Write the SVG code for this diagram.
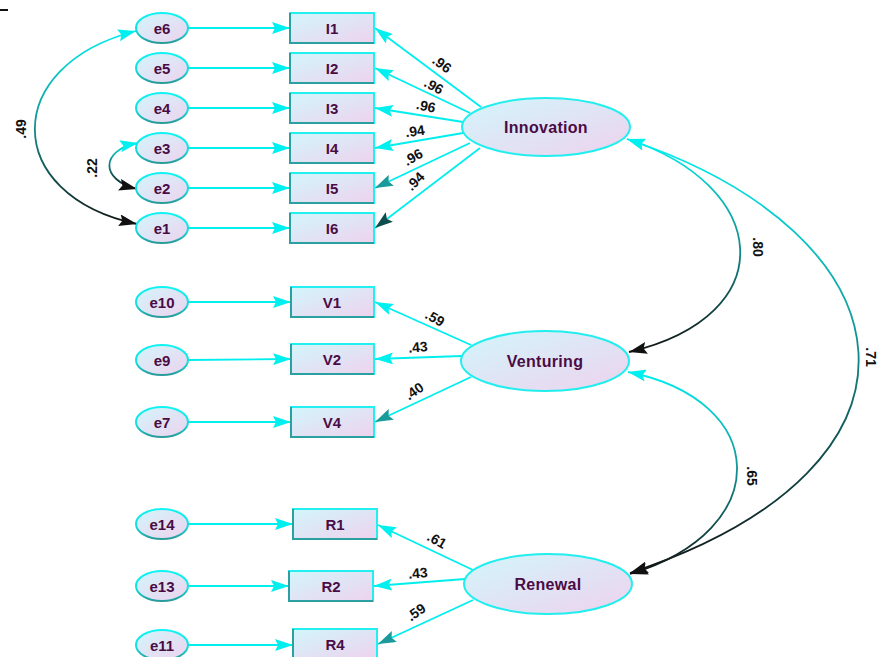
<svg xmlns="http://www.w3.org/2000/svg" width="880" height="657" viewBox="0 0 880 657">
<style>
.box{fill:url(#nf);stroke:#22f0f0;stroke-width:2}
.shade{fill:none;stroke:#2aa0a0;stroke-width:2}
.err{fill:url(#nf);stroke:url(#es);stroke-width:2}
.lat{fill:url(#nf);stroke:#22eeee;stroke-width:2}
.lbl{font-family:"Liberation Sans",Arial,sans-serif;font-weight:bold;fill:#4b0b45;text-anchor:middle;dominant-baseline:central}
.ltxt{font-size:16px;letter-spacing:0.3px}
.etxt{font-size:15px}
.btxt{font-size:15px}
.num{font-family:"Liberation Sans",Arial,sans-serif;font-weight:bold;font-size:14px;fill:#111;text-anchor:middle;dominant-baseline:central}
.c{fill:none;stroke:#00eeee;stroke-width:1.8}
.cov{fill:none;stroke-width:1.8}
</style>
<defs>
<linearGradient id="nf" x1="0" y1="0" x2="1" y2="1">
<stop offset="0" stop-color="#d2f6fc"/>
<stop offset="1" stop-color="#eed2ee"/>
</linearGradient>
<linearGradient id="es" x1="0" y1="0" x2="0" y2="1">
<stop offset="0" stop-color="#10f4f4"/>
<stop offset="0.55" stop-color="#10e0e0"/>
<stop offset="1" stop-color="#2a9a9a"/>
</linearGradient>
<linearGradient id="g49" gradientUnits="userSpaceOnUse" x1="0" y1="28" x2="0" y2="228">
<stop offset="0" stop-color="#00f0f0"/>
<stop offset="0.45" stop-color="#139898"/>
<stop offset="1" stop-color="#111"/>
</linearGradient>
<linearGradient id="g22" gradientUnits="userSpaceOnUse" x1="0" y1="142" x2="0" y2="192">
<stop offset="0" stop-color="#00f0f0"/>
<stop offset="0.4" stop-color="#168888"/>
<stop offset="1" stop-color="#111"/>
</linearGradient>
<linearGradient id="g80" gradientUnits="userSpaceOnUse" x1="0" y1="138" x2="0" y2="352">
<stop offset="0" stop-color="#00f0f0"/>
<stop offset="0.45" stop-color="#139a9a"/>
<stop offset="1" stop-color="#111"/>
</linearGradient>
<linearGradient id="g71" gradientUnits="userSpaceOnUse" x1="0" y1="138" x2="0" y2="573">
<stop offset="0" stop-color="#00f0f0"/>
<stop offset="0.4" stop-color="#13a0a0"/>
<stop offset="0.65" stop-color="#126060"/>
<stop offset="1" stop-color="#111"/>
</linearGradient>
<linearGradient id="g65" gradientUnits="userSpaceOnUse" x1="0" y1="372" x2="0" y2="574">
<stop offset="0" stop-color="#00f0f0"/>
<stop offset="0.45" stop-color="#139a9a"/>
<stop offset="1" stop-color="#111"/>
</linearGradient>
<linearGradient id="gI1" gradientUnits="userSpaceOnUse" x1="480" y1="107" x2="375" y2="28">
<stop offset="0" stop-color="#1a9a9a"/>
<stop offset="0.5" stop-color="#00e8e8"/>
<stop offset="1" stop-color="#00f0f0"/>
</linearGradient>
<linearGradient id="gI5" gradientUnits="userSpaceOnUse" x1="470" y1="143" x2="375" y2="188">
<stop offset="0" stop-color="#00f0f0"/>
<stop offset="0.6" stop-color="#00e0e0"/>
<stop offset="1" stop-color="#1a9a9a"/>
</linearGradient>
<linearGradient id="gI6" gradientUnits="userSpaceOnUse" x1="480" y1="148" x2="375" y2="228">
<stop offset="0" stop-color="#00f0f0"/>
<stop offset="0.5" stop-color="#12b0b0"/>
<stop offset="1" stop-color="#0d4d4d"/>
</linearGradient>
<linearGradient id="gV4" gradientUnits="userSpaceOnUse" x1="470" y1="377" x2="377" y2="422">
<stop offset="0" stop-color="#00f0f0"/>
<stop offset="0.7" stop-color="#00e0e0"/>
<stop offset="1" stop-color="#1a9a9a"/>
</linearGradient>
<linearGradient id="gR4" gradientUnits="userSpaceOnUse" x1="472" y1="600" x2="378" y2="644">
<stop offset="0" stop-color="#00f0f0"/>
<stop offset="0.7" stop-color="#00e0e0"/>
<stop offset="1" stop-color="#1a9a9a"/>
</linearGradient>
<marker id="ac" viewBox="0 0 18 12" refX="18" refY="6" markerWidth="18" markerHeight="12" markerUnits="userSpaceOnUse" orient="auto-start-reverse"><path d="M0,0 L18,6 L0,12 L3,6 z" fill="#00f0f0"/></marker>
<marker id="at" viewBox="0 0 18 12" refX="18" refY="6" markerWidth="18" markerHeight="12" markerUnits="userSpaceOnUse" orient="auto-start-reverse"><path d="M0,0 L18,6 L0,12 L3,6 z" fill="#1a9a9a"/></marker>
<marker id="ad" viewBox="0 0 18 12" refX="18" refY="6" markerWidth="18" markerHeight="12" markerUnits="userSpaceOnUse" orient="auto-start-reverse"><path d="M0,0 L18,6 L0,12 L3,6 z" fill="#0d4d4d"/></marker>
<marker id="ak" viewBox="0 0 18 12" refX="18" refY="6" markerWidth="18" markerHeight="12" markerUnits="userSpaceOnUse" orient="auto-start-reverse"><path d="M0,0 L18,6 L0,12 L3,6 z" fill="#111"/></marker>
</defs>
<rect width="880" height="657" fill="#fff"/>
<line x1="0" y1="10" x2="8" y2="10" stroke="#111" stroke-width="2"/>

<g id="connectors">
<line class="c" x1="188" y1="28" x2="290" y2="28" marker-end="url(#ac)"/>
<line class="c" x1="188" y1="68" x2="290" y2="68" marker-end="url(#ac)"/>
<line class="c" x1="188" y1="108" x2="290" y2="108" marker-end="url(#ac)"/>
<line class="c" x1="188" y1="148" x2="290" y2="148" marker-end="url(#ac)"/>
<line class="c" x1="188" y1="188" x2="290" y2="188" marker-end="url(#ac)"/>
<line class="c" x1="188" y1="228" x2="290" y2="228" marker-end="url(#ac)"/>
<line class="c" x1="188" y1="302" x2="291" y2="302" marker-end="url(#ac)"/>
<line class="c" x1="188" y1="360" x2="291" y2="359" marker-end="url(#ac)"/>
<line class="c" x1="188" y1="422" x2="291" y2="422" marker-end="url(#ac)"/>
<line class="c" x1="188" y1="524" x2="293" y2="524" marker-end="url(#ac)"/>
<line class="c" x1="188" y1="586" x2="289" y2="586" marker-end="url(#ac)"/>
<line class="c" x1="188" y1="645" x2="293" y2="645" marker-end="url(#ac)"/>
<line class="c" x1="481" y1="107" x2="375" y2="28" stroke="url(#gI1)" marker-end="url(#ac)"/>
<line class="c" x1="470" y1="113" x2="375" y2="68" marker-end="url(#ac)"/>
<line class="c" x1="463" y1="122" x2="375" y2="108" marker-end="url(#ac)"/>
<line class="c" x1="463" y1="133" x2="375" y2="148" marker-end="url(#ac)"/>
<line class="c" x1="470" y1="143" x2="375" y2="188" stroke="url(#gI5)" marker-end="url(#at)"/>
<line class="c" x1="480" y1="148" x2="375" y2="228" stroke="url(#gI6)" marker-end="url(#ad)"/>
<line class="c" x1="471" y1="345" x2="375" y2="302" marker-end="url(#ac)"/>
<line class="c" x1="462" y1="356" x2="375" y2="359" marker-end="url(#ac)"/>
<line class="c" x1="471" y1="377" x2="375" y2="422" stroke="url(#gV4)" marker-end="url(#at)"/>
<line class="c" x1="473" y1="570" x2="378" y2="525" marker-end="url(#ac)"/>
<line class="c" x1="465" y1="579" x2="374" y2="586" marker-end="url(#ac)"/>
<line class="c" x1="473" y1="600" x2="378" y2="644" stroke="url(#gR4)" marker-end="url(#at)"/>
<path class="cov" d="M136,31 C1,65 1,195 137,224" stroke="url(#g49)" marker-start="url(#ac)" marker-end="url(#ak)"/>
<path class="cov" d="M138,143 C100,150 100,180 137,189" stroke="url(#g22)" marker-start="url(#ac)" marker-end="url(#ak)"/>
<path class="cov" d="M627,139 C770,185 785,315 629,352" stroke="url(#g80)" marker-start="url(#ac)" marker-end="url(#ak)"/>
<path class="cov" d="M627,139 C915,235 955,465 630,573" stroke="url(#g71)" marker-start="url(#ac)" marker-end="url(#ak)"/>
<path class="cov" d="M628,372 C770,400 776,530 630,574" stroke="url(#g65)" marker-start="url(#ac)" marker-end="url(#ak)"/>
<text class="num" transform="translate(442,64) rotate(36)">.96</text>
<text class="num" transform="translate(434,86) rotate(28)">.96</text>
<text class="num" transform="translate(426,106) rotate(12)">.96</text>
<text class="num" transform="translate(415,131) rotate(-8)">.94</text>
<text class="num" transform="translate(413,157) rotate(-30)">.96</text>
<text class="num" transform="translate(415,181) rotate(-45)">.94</text>
<text class="num" transform="translate(435,318) rotate(30)">.59</text>
<text class="num" transform="translate(418,347) rotate(-5)">.43</text>
<text class="num" transform="translate(414,391) rotate(-35)">.40</text>
<text class="num" transform="translate(437,540) rotate(30)">.61</text>
<text class="num" transform="translate(418,573) rotate(-5)">.43</text>
<text class="num" transform="translate(416,612) rotate(-35)">.59</text>
<text class="num" transform="translate(21,129) rotate(-90)">.49</text>
<text class="num" transform="translate(92,168) rotate(-90)">.22</text>
<text class="num" transform="translate(758,247) rotate(90)">.80</text>
<text class="num" transform="translate(871,357) rotate(90)">.71</text>
<text class="num" transform="translate(752,476) rotate(90)">.65</text>
</g>

<g id="e6"><ellipse class="err" cx="162" cy="28" rx="26" ry="15"/><text class="lbl etxt" x="162" y="28">e6</text></g>
<g id="e5"><ellipse class="err" cx="162" cy="68" rx="26" ry="15"/><text class="lbl etxt" x="162" y="68">e5</text></g>
<g id="e4"><ellipse class="err" cx="162" cy="108" rx="26" ry="15"/><text class="lbl etxt" x="162" y="108">e4</text></g>
<g id="e3"><ellipse class="err" cx="162" cy="148" rx="26" ry="15"/><text class="lbl etxt" x="162" y="148">e3</text></g>
<g id="e2"><ellipse class="err" cx="162" cy="188" rx="26" ry="15"/><text class="lbl etxt" x="162" y="188">e2</text></g>
<g id="e1"><ellipse class="err" cx="162" cy="228" rx="26" ry="15"/><text class="lbl etxt" x="162" y="228">e1</text></g>
<g id="e10"><ellipse class="err" cx="162" cy="302" rx="26" ry="15"/><text class="lbl etxt" x="162" y="302">e10</text></g>
<g id="e9"><ellipse class="err" cx="162" cy="360" rx="26" ry="15"/><text class="lbl etxt" x="162" y="360">e9</text></g>
<g id="e7"><ellipse class="err" cx="162" cy="422" rx="26" ry="15"/><text class="lbl etxt" x="162" y="422">e7</text></g>
<g id="e14"><ellipse class="err" cx="162" cy="524" rx="26" ry="15"/><text class="lbl etxt" x="162" y="524">e14</text></g>
<g id="e13"><ellipse class="err" cx="162" cy="586" rx="26" ry="15"/><text class="lbl etxt" x="162" y="586">e13</text></g>
<g id="e11"><ellipse class="err" cx="162" cy="645" rx="26" ry="15"/><text class="lbl etxt" x="162" y="645">e11</text></g>

<g id="I1"><rect class="box" x="290" y="13" width="84" height="30"/><path class="shade" d="M290,13 V43 H374"/><text class="lbl btxt" x="332" y="28">I1</text></g>
<g id="I2"><rect class="box" x="290" y="53" width="84" height="30"/><path class="shade" d="M290,53 V83 H374"/><text class="lbl btxt" x="332" y="68">I2</text></g>
<g id="I3"><rect class="box" x="290" y="93" width="84" height="30"/><path class="shade" d="M290,93 V123 H374"/><text class="lbl btxt" x="332" y="108">I3</text></g>
<g id="I4"><rect class="box" x="290" y="133" width="84" height="30"/><path class="shade" d="M290,133 V163 H374"/><text class="lbl btxt" x="332" y="148">I4</text></g>
<g id="I5"><rect class="box" x="290" y="173" width="84" height="30"/><path class="shade" d="M290,173 V203 H374"/><text class="lbl btxt" x="332" y="188">I5</text></g>
<g id="I6"><rect class="box" x="290" y="213" width="84" height="30"/><path class="shade" d="M290,213 V243 H374"/><text class="lbl btxt" x="332" y="228">I6</text></g>
<g id="V1"><rect class="box" x="291" y="287" width="83" height="30"/><path class="shade" d="M291,287 V317 H374"/><text class="lbl btxt" x="332" y="302">V1</text></g>
<g id="V2"><rect class="box" x="291" y="344" width="83" height="30"/><path class="shade" d="M291,344 V374 H374"/><text class="lbl btxt" x="332" y="359">V2</text></g>
<g id="V4"><rect class="box" x="291" y="407" width="83" height="30"/><path class="shade" d="M291,407 V437 H374"/><text class="lbl btxt" x="332" y="422">V4</text></g>
<g id="R1"><rect class="box" x="293" y="509" width="84" height="30"/><path class="shade" d="M293,509 V539 H377"/><text class="lbl btxt" x="335" y="524">R1</text></g>
<g id="R2"><rect class="box" x="289" y="571" width="84" height="30"/><path class="shade" d="M289,571 V601 H373"/><text class="lbl btxt" x="331" y="586">R2</text></g>
<g id="R4"><rect class="box" x="293" y="629" width="84" height="30"/><path class="shade" d="M293,629 V659 H377"/><text class="lbl btxt" x="335" y="644">R4</text></g>

<g id="Innovation"><ellipse class="lat" cx="546" cy="127" rx="84" ry="29"/><text class="lbl ltxt" x="546" y="127">Innovation</text></g>
<g id="Venturing"><ellipse class="lat" cx="545" cy="361" rx="84" ry="30"/><text class="lbl ltxt" x="545" y="361">Venturing</text></g>
<g id="Renewal"><ellipse class="lat" cx="548" cy="584" rx="84" ry="30"/><text class="lbl ltxt" x="548" y="584">Renewal</text></g>
</svg>
